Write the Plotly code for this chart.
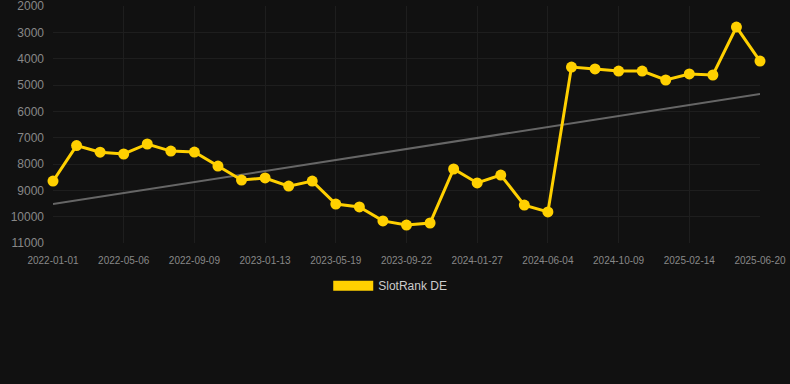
import plotly.graph_objects as go

dates = [
    "2022-01-01", "2022-02-12", "2022-03-25", "2022-05-06", "2022-06-17", "2022-07-29",
    "2022-09-09", "2022-10-21", "2022-12-02", "2023-01-13", "2023-02-24", "2023-04-07",
    "2023-05-19", "2023-06-30", "2023-08-11", "2023-09-22", "2023-11-03", "2023-12-15",
    "2024-01-27", "2024-03-09", "2024-04-22", "2024-06-04", "2024-07-16", "2024-08-27",
    "2024-10-09", "2024-11-20", "2025-01-02", "2025-02-14", "2025-03-28", "2025-05-09",
    "2025-06-20",
]
rank_de = [
    8650, 7300, 7550, 7620, 7240, 7510, 7545, 8080, 8610, 8530, 8840, 8650,
    9520, 9630, 10160, 10320, 10240, 8190, 8720, 8420, 9560, 9820,
    4320, 4390, 4470, 4470, 4810, 4580, 4620, 2800, 4090,
]
trend_x = [dates[0], dates[-1]]
trend_y = [9520, 5340]
tick_dates = dates[::3]
y_ticks = [2000, 3000, 4000, 5000, 6000, 7000, 8000, 9000, 10000, 11000]
y_labels = [str(v) for v in y_ticks]

YELLOW = "#FFD000"
BG = "#111111"
GRID = "#1e1e1e"

fig = go.Figure()
fig.add_trace(go.Scatter(
    x=trend_x, y=trend_y, mode="lines",
    line=dict(color="#666666", width=2),
    showlegend=False, hoverinfo="skip",
))
fig.add_trace(go.Scatter(
    x=dates, y=rank_de, mode="lines+markers",
    line=dict(color=YELLOW, width=3),
    marker=dict(color=YELLOW, size=11),
    cliponaxis=False, showlegend=False, name="SlotRank DE",
))
fig.add_trace(go.Scatter(
    x=[None], y=[None], mode="lines",
    line=dict(color=YELLOW, width=12),
    name="SlotRank DE", showlegend=True,
))

fig.update_layout(
    width=790, height=384,
    paper_bgcolor=BG, plot_bgcolor=BG,
    margin=dict(l=53, r=30, t=6, b=141, autoexpand=False),
    font=dict(family="Liberation Sans, Arial, sans-serif", color="#888888"),
    showlegend=True,
    legend=dict(
        orientation="h", x=0.477, xanchor="center", y=-0.119, yanchor="top",
        font=dict(size=12, color="#cccccc"), itemwidth=40,
        bgcolor="rgba(0,0,0,0)",
    ),
    xaxis=dict(
        type="category", categoryorder="array", categoryarray=dates,
        range=[0, len(dates) - 1], automargin=False,
        tickvals=tick_dates, ticktext=tick_dates,
        tickfont=dict(size=10, color="#888888"),
        ticklabelstandoff=10, ticklabeloverflow="allow",
        showgrid=True, gridcolor=GRID, gridwidth=1,
        zeroline=False, showline=False, ticks="",
    ),
    yaxis=dict(
        range=[11000, 2000], tickvals=y_ticks, ticktext=y_labels,
        automargin=False,
        tickfont=dict(size=12, color="#888888"),
        ticklabelstandoff=8, ticklabeloverflow="allow",
        showgrid=True, gridcolor=GRID, gridwidth=1,
        zeroline=False, showline=False, ticks="",
    ),
)

fig.write_html(
    "out.html",
    config={"displayModeBar": False},
    post_script="document.body.style.margin='0';document.body.style.background='#111111';",
)
